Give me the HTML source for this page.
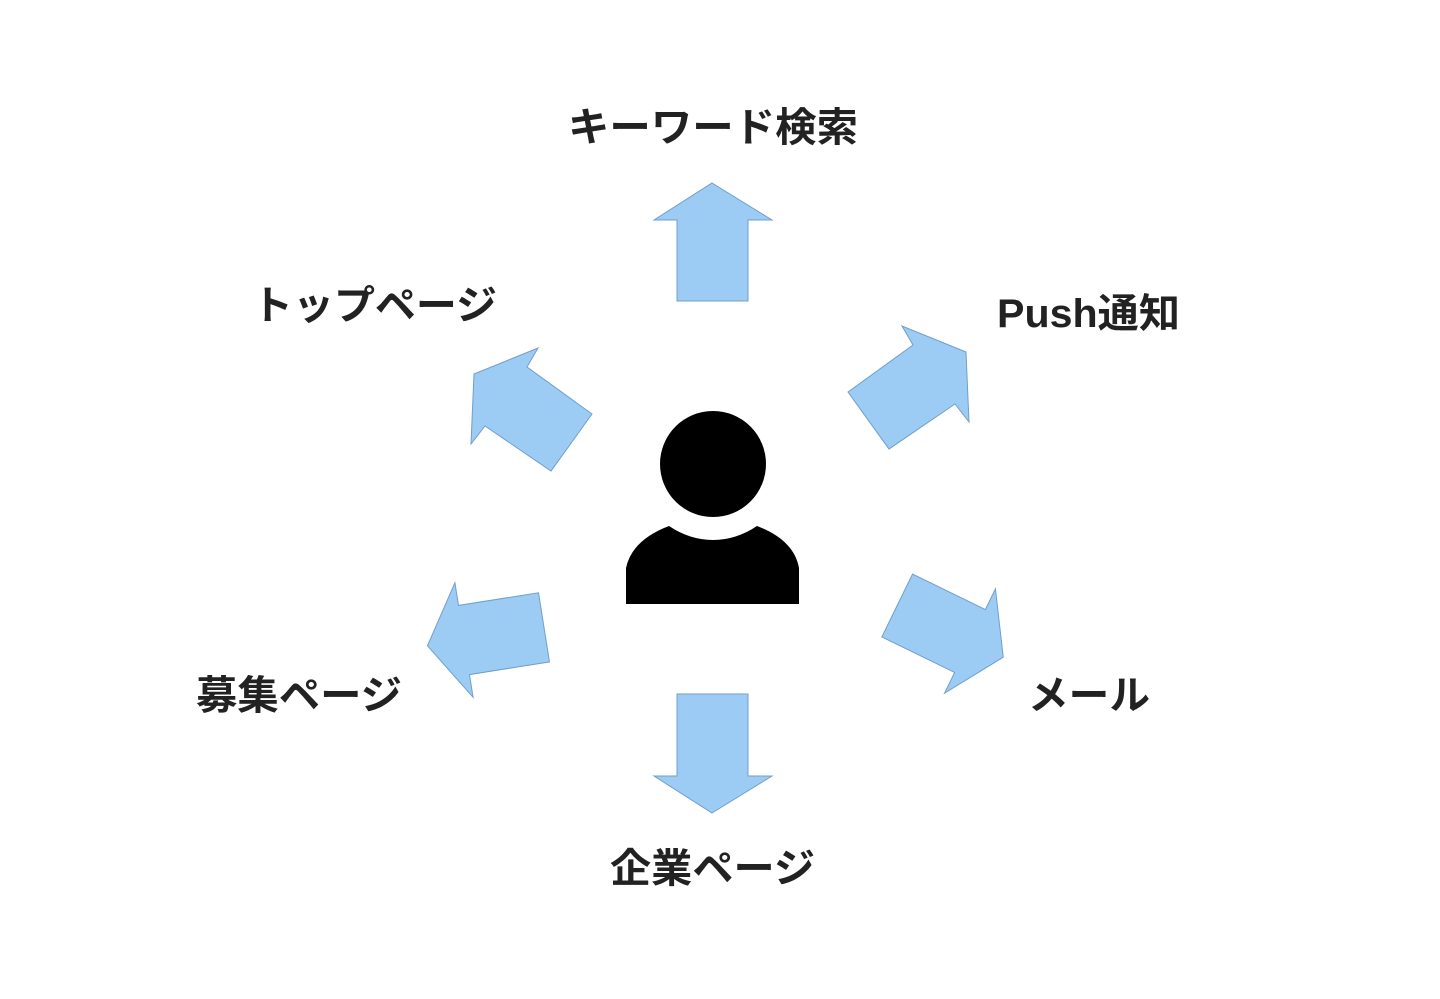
<!DOCTYPE html>
<html><head><meta charset="utf-8"><style>
body{margin:0;background:#fff;}
svg{display:block}
text{font-family:"Liberation Sans","Noto Sans CJK JP",sans-serif;font-weight:bold;font-size:40px;fill:#222;}
</style></head><body>
<svg width="1440" height="999" viewBox="0 0 1440 999">
<defs>
<polygon id="ar" points="0,-37 58,0 35,0 35,81 -35,81 -35,0 -58,0"/>
</defs>
<g fill="#9ccbf3" stroke="#6f9fcc" stroke-width="1">
<polygon points="712,183 772,220 748,220 748,301 677,301 677,220 654,220"/>
<polygon points="712,813 772,776 748,776 748,694 677,694 677,776 654,776"/>
<polygon points="848,392 913,345 902,326 966,352 969,422 955,404 889,449"/>
<polygon points="592,414 527,367 538,348 474,374 471,444 485,426 551,471"/>
<use href="#ar" transform="translate(970,641) rotate(116)"/>
<use href="#ar" transform="translate(464,640) rotate(-99)"/>
</g>
<path d="M626,604 L626,568 Q632,540 669,526 Q690,540 713,540 Q736,540 757,526 Q794,540 799,568 L799,604 Z" fill="#000"/>
<circle cx="713" cy="464" r="53" fill="#000"/>
<text x="568" y="141" textLength="290" lengthAdjust="spacingAndGlyphs">キーワード検索</text>
<text x="252" y="319" textLength="245" lengthAdjust="spacingAndGlyphs">トップページ</text>
<text x="997" y="327" textLength="183" lengthAdjust="spacingAndGlyphs">Push通知</text>
<text x="196" y="709" textLength="206" lengthAdjust="spacingAndGlyphs">募集ページ</text>
<text x="1028" y="709" textLength="122" lengthAdjust="spacingAndGlyphs">メール</text>
<text x="610" y="882" textLength="205" lengthAdjust="spacingAndGlyphs">企業ページ</text>
</svg>
</body></html>
